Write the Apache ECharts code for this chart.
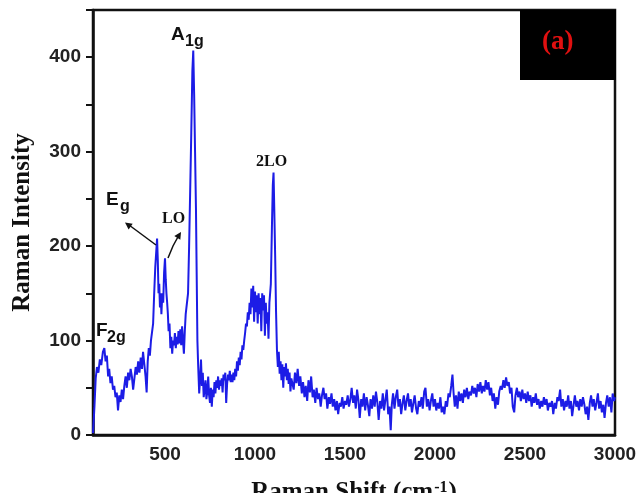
<!DOCTYPE html>
<html lang="en">
<head>
	<meta charset="UTF-8">
	<title>Raman spectrum</title>
	<style>
		* {
			margin: 0;
			padding: 0;
		}

		#box {
			width: 639px;
			height: 493px;
		}
	</style>
	<script src="https://cdn.jsdelivr.net/npm/echarts@6/dist/echarts.min.js"></script>
</head>
<body>
<div id="box"></div>
</body>
<script>
	// 坐标轴刻度
	const xTicks = [500, 1000, 1500, 2000, 2500, 3000];
	const yTicks = [0, 100, 200, 300, 400];

	// 光谱数据 [Raman shift, intensity]，按区段读取
	const lowBand = [
		[100, 2], [108, 30], [115, 60], [122, 72], [130, 66], [138, 80], [146, 74], [155, 88], [163, 92],
		[170, 78], [177, 84], [184, 62], [190, 70], [197, 55], [204, 62], [211, 48], [218, 52], [225, 40],
		[232, 45], [239, 26], [246, 42], [253, 35], [260, 48], [267, 38], [274, 52], [281, 62], [288, 50],
		[295, 66], [302, 58], [309, 70], [316, 62], [323, 48], [330, 60], [337, 72], [344, 64], [351, 78],
		[358, 66], [365, 82], [372, 70], [378, 88], [385, 75], [392, 62], [398, 45], [404, 78], [410, 92],
		[416, 84], [422, 100], [428, 98], [434, 118], [440, 150], [446, 178], [452, 196], [456, 208],
		[460, 185], [464, 150], [468, 160], [472, 135], [476, 150], [480, 128], [485, 150], [490, 140],
		[495, 172], [500, 187], [504, 165], [508, 150], [512, 140], [516, 128], [520, 110], [525, 118],
		[530, 92], [535, 104], [540, 86], [545, 100], [550, 95], [555, 108], [560, 92], [565, 104],
		[570, 96], [575, 110], [580, 97], [585, 112], [590, 95], [595, 115], [600, 100], [605, 86],
		[610, 110], [615, 128], [622, 140], [628, 150], [634, 200], [640, 260], [646, 320], [652, 385],
		[657, 407], [662, 360], [667, 300], [672, 240], [676, 170], [680, 100], [684, 75], [690, 44]
	];
	const midBand = [
		[695, 60], [700, 80], [705, 52], [710, 66], [715, 40], [720, 48], [725, 58], [730, 38], [735, 46],
		[740, 62], [745, 42], [750, 34], [755, 50], [760, 30], [765, 48], [770, 40], [775, 56], [780, 44],
		[785, 58], [790, 50], [795, 62], [800, 48], [805, 58], [810, 52], [815, 60], [820, 45], [825, 64],
		[830, 58], [835, 66], [840, 34], [845, 54], [850, 64], [855, 58], [860, 68], [865, 56], [870, 64],
		[875, 56], [880, 66], [885, 58], [890, 70], [895, 62], [900, 78], [905, 68], [910, 82], [915, 74],
		[920, 88], [925, 80], [930, 95], [935, 90], [940, 100], [945, 108], [950, 118], [955, 115],
		[960, 130], [965, 122], [970, 140], [975, 128], [980, 155], [985, 135], [990, 158], [995, 120],
		[1000, 152], [1005, 130], [1010, 148], [1015, 118], [1020, 150], [1025, 128], [1030, 145],
		[1035, 110], [1040, 150], [1045, 132], [1050, 148], [1055, 105], [1060, 140], [1065, 118],
		[1070, 130], [1075, 102], [1080, 140], [1088, 160], [1094, 220], [1099, 265], [1103, 278],
		[1107, 240], [1112, 190], [1117, 130], [1122, 90], [1127, 72], [1132, 88], [1137, 65], [1142, 78],
		[1147, 58], [1152, 75], [1157, 50], [1162, 72], [1167, 62], [1172, 76], [1177, 58], [1182, 70],
		[1187, 54], [1192, 66], [1197, 46], [1202, 60]
	];
	const highBand = [
		[1207, 58], [1215, 48], [1222, 66], [1230, 55], [1237, 70], [1245, 52], [1252, 62], [1260, 44],
		[1267, 56], [1275, 40], [1282, 52], [1290, 36], [1297, 58], [1305, 45], [1312, 62], [1320, 40],
		[1327, 48], [1335, 34], [1342, 50], [1350, 38], [1357, 44], [1365, 30], [1372, 42], [1380, 50],
		[1387, 38], [1395, 44], [1402, 28], [1410, 40], [1417, 33], [1425, 44], [1432, 30], [1440, 38],
		[1447, 26], [1455, 36], [1462, 22], [1470, 34], [1477, 30], [1485, 40], [1492, 28], [1500, 36],
		[1507, 32], [1515, 42], [1522, 30], [1530, 38], [1537, 50], [1545, 34], [1552, 42], [1560, 28],
		[1567, 48], [1575, 36], [1582, 18], [1590, 38], [1597, 30], [1605, 44], [1612, 26], [1620, 40],
		[1627, 32], [1635, 20], [1642, 38], [1650, 28], [1657, 42], [1665, 30], [1672, 46], [1680, 34],
		[1687, 16], [1695, 36], [1702, 28], [1710, 44], [1717, 26], [1725, 38], [1732, 48], [1740, 22],
		[1747, 30], [1754, 5], [1760, 32], [1767, 44], [1775, 28], [1782, 40], [1790, 48], [1797, 30],
		[1805, 38], [1812, 22], [1820, 34], [1827, 42], [1835, 26], [1842, 36], [1850, 44], [1857, 30],
		[1865, 38], [1872, 24], [1880, 34], [1887, 42], [1895, 28], [1902, 22], [1910, 36], [1917, 30],
		[1925, 40], [1932, 28], [1940, 46], [1947, 50], [1955, 30], [1962, 38], [1970, 26], [1977, 36],
		[1985, 44], [1992, 30], [2000, 38], [2007, 26], [2015, 34], [2022, 28], [2030, 40], [2037, 24],
		[2045, 30], [2052, 22], [2060, 36], [2067, 30], [2075, 44], [2082, 40], [2090, 52], [2097, 64],
		[2103, 45], [2110, 30], [2117, 42], [2125, 28], [2132, 46], [2140, 36], [2147, 44], [2155, 34],
		[2162, 48], [2170, 40], [2177, 50], [2185, 38], [2192, 46], [2200, 42], [2207, 52], [2215, 44],
		[2222, 50], [2230, 40], [2237, 54], [2245, 46], [2252, 56], [2260, 44], [2267, 52], [2275, 46],
		[2282, 58], [2290, 48], [2297, 56], [2305, 42], [2312, 50], [2320, 36], [2327, 44], [2335, 28],
		[2342, 40], [2350, 32], [2357, 46], [2365, 52], [2372, 48], [2380, 58], [2387, 50], [2395, 61],
		[2402, 52], [2410, 56], [2417, 44], [2425, 50], [2432, 30], [2440, 24], [2447, 42], [2455, 50],
		[2462, 40], [2470, 46], [2477, 36], [2485, 48], [2492, 38], [2500, 44], [2507, 34], [2515, 46],
		[2522, 36], [2530, 42], [2537, 30], [2545, 40], [2552, 34], [2560, 44], [2567, 32], [2575, 38],
		[2582, 28], [2590, 36], [2597, 30], [2605, 40], [2612, 32], [2620, 38], [2627, 26], [2635, 34],
		[2642, 30], [2650, 36], [2657, 22], [2665, 34], [2672, 28], [2680, 40], [2687, 36], [2695, 48],
		[2702, 30], [2710, 38], [2717, 26], [2725, 36], [2732, 30], [2740, 42], [2747, 28], [2755, 36],
		[2762, 20], [2770, 32], [2777, 42], [2785, 30], [2792, 36], [2800, 26], [2807, 38], [2815, 30],
		[2822, 40], [2830, 32], [2837, 22], [2845, 30], [2852, 16], [2860, 34], [2867, 42], [2875, 30],
		[2882, 38], [2890, 26], [2897, 34], [2905, 44], [2912, 28], [2920, 36], [2927, 24], [2935, 32],
		[2942, 18], [2950, 34], [2957, 42], [2965, 30], [2972, 40], [2980, 24], [2987, 44], [2995, 36],
		[3000, 40]
	];

	const spectrum = lowBand.concat(midBand, highBand);

	const serif = '"Liberation Serif", "DejaVu Serif", serif';
	const sans = '"Liberation Sans", Arial, sans-serif';

	const myEcharts = echarts.init(document.getElementById('box'));

	// 标注文字
	function label(text, x, y, size, font) {
		return {
			type: 'text', left: x, top: y, z: 10,
			style: {text: text, fill: '#111', font: 'bold ' + size + 'px ' + font}
		};
	}

	myEcharts.setOption({
		animation: false,
		backgroundColor: '#fff',
		grid: {
			left: 93, right: 24, top: 10, bottom: 58,
			outerBoundsMode: 'none',
			show: true, borderColor: '#111', borderWidth: 2.5
		},
		xAxis: {
			type: 'value',
			min: 100,
			max: 3000,
			name: '{t|Raman Shift (cm}{s|-1}{t|)}',
			nameLocation: 'middle',
			nameGap: 40,
			nameTextStyle: {
				rich: {
					t: {fontFamily: serif, fontWeight: 'bold', fontSize: 25, lineHeight: 25, color: '#111', verticalAlign: 'bottom', padding: [11, 0, 0, 0]},
					s: {fontFamily: serif, fontWeight: 'bold', fontSize: 16, lineHeight: 16, color: '#111', verticalAlign: 'top', padding: [0, 1, 0, 1]}
				}
			},
			axisLine: {lineStyle: {color: '#111', width: 2.5}},
			axisTick: {show: false},
			splitLine: {show: false},
			axisLabel: {
				customValues: xTicks,
				margin: 10,
				color: '#222',
				fontFamily: sans,
				fontWeight: 'bold',
				fontSize: 19,
				formatter: function (v) {
					return String(v);
				}
			}
		},
		yAxis: {
			type: 'value',
			min: 0,
			max: 450,
			interval: 50,
			name: 'Raman Intensity',
			nameLocation: 'middle',
			nameGap: 58,
			nameTextStyle: {fontFamily: serif, fontWeight: 'bold', fontSize: 25, color: '#111'},
			axisLine: {lineStyle: {color: '#111', width: 2.5}},
			axisTick: {show: true, length: 7, lineStyle: {color: '#111', width: 2}},
			splitLine: {show: false},
			axisLabel: {
				margin: 12,
				color: '#222',
				fontFamily: sans,
				fontWeight: 'bold',
				fontSize: 19,
				formatter: function (v) {
					return yTicks.indexOf(v) >= 0 ? String(v) : '';
				}
			}
		},
		series: [
			{
				type: 'line',
				data: spectrum,
				showSymbol: false,
				lineStyle: {color: '#1c1ce6', width: 2}
			}
		],
		graphic: [
			// (a) 标签
			{type: 'rect', left: 520, top: 10, shape: {width: 96, height: 70}, style: {fill: '#000'}, z: 10},
			{
				type: 'text', left: 542, top: 29, z: 11,
				style: {text: '(a)', fill: '#e01010', font: 'bold 27px ' + serif}
			},
			label('A', 171, 25, 19, sans),
			label('1g', 185, 34, 16, sans),
			label('2LO', 256, 154, 16, serif),
			label('E', 106, 190, 19, sans),
			label('g', 120, 199, 16, sans),
			label('LO', 162, 211, 16, serif),
			label('F', 96, 321, 19, sans),
			label('2g', 107, 330, 16, sans),
			// 箭头
			{type: 'polyline', z: 10, shape: {points: [[156, 245], [129, 225]]}, style: {stroke: '#111', lineWidth: 1.5}},
			{type: 'polygon', z: 10, shape: {points: [[125, 222.5], [132.7, 223.8], [128.6, 229.4]]}, style: {fill: '#111'}},
			{type: 'polyline', z: 10, shape: {points: [[168, 258], [173, 246], [179, 235]]}, style: {stroke: '#111', lineWidth: 1.5}},
			{type: 'polygon', z: 10, shape: {points: [[181, 232], [180.3, 239.8], [174.3, 236.1]]}, style: {fill: '#111'}}
		]
	});
</script>
</html>
